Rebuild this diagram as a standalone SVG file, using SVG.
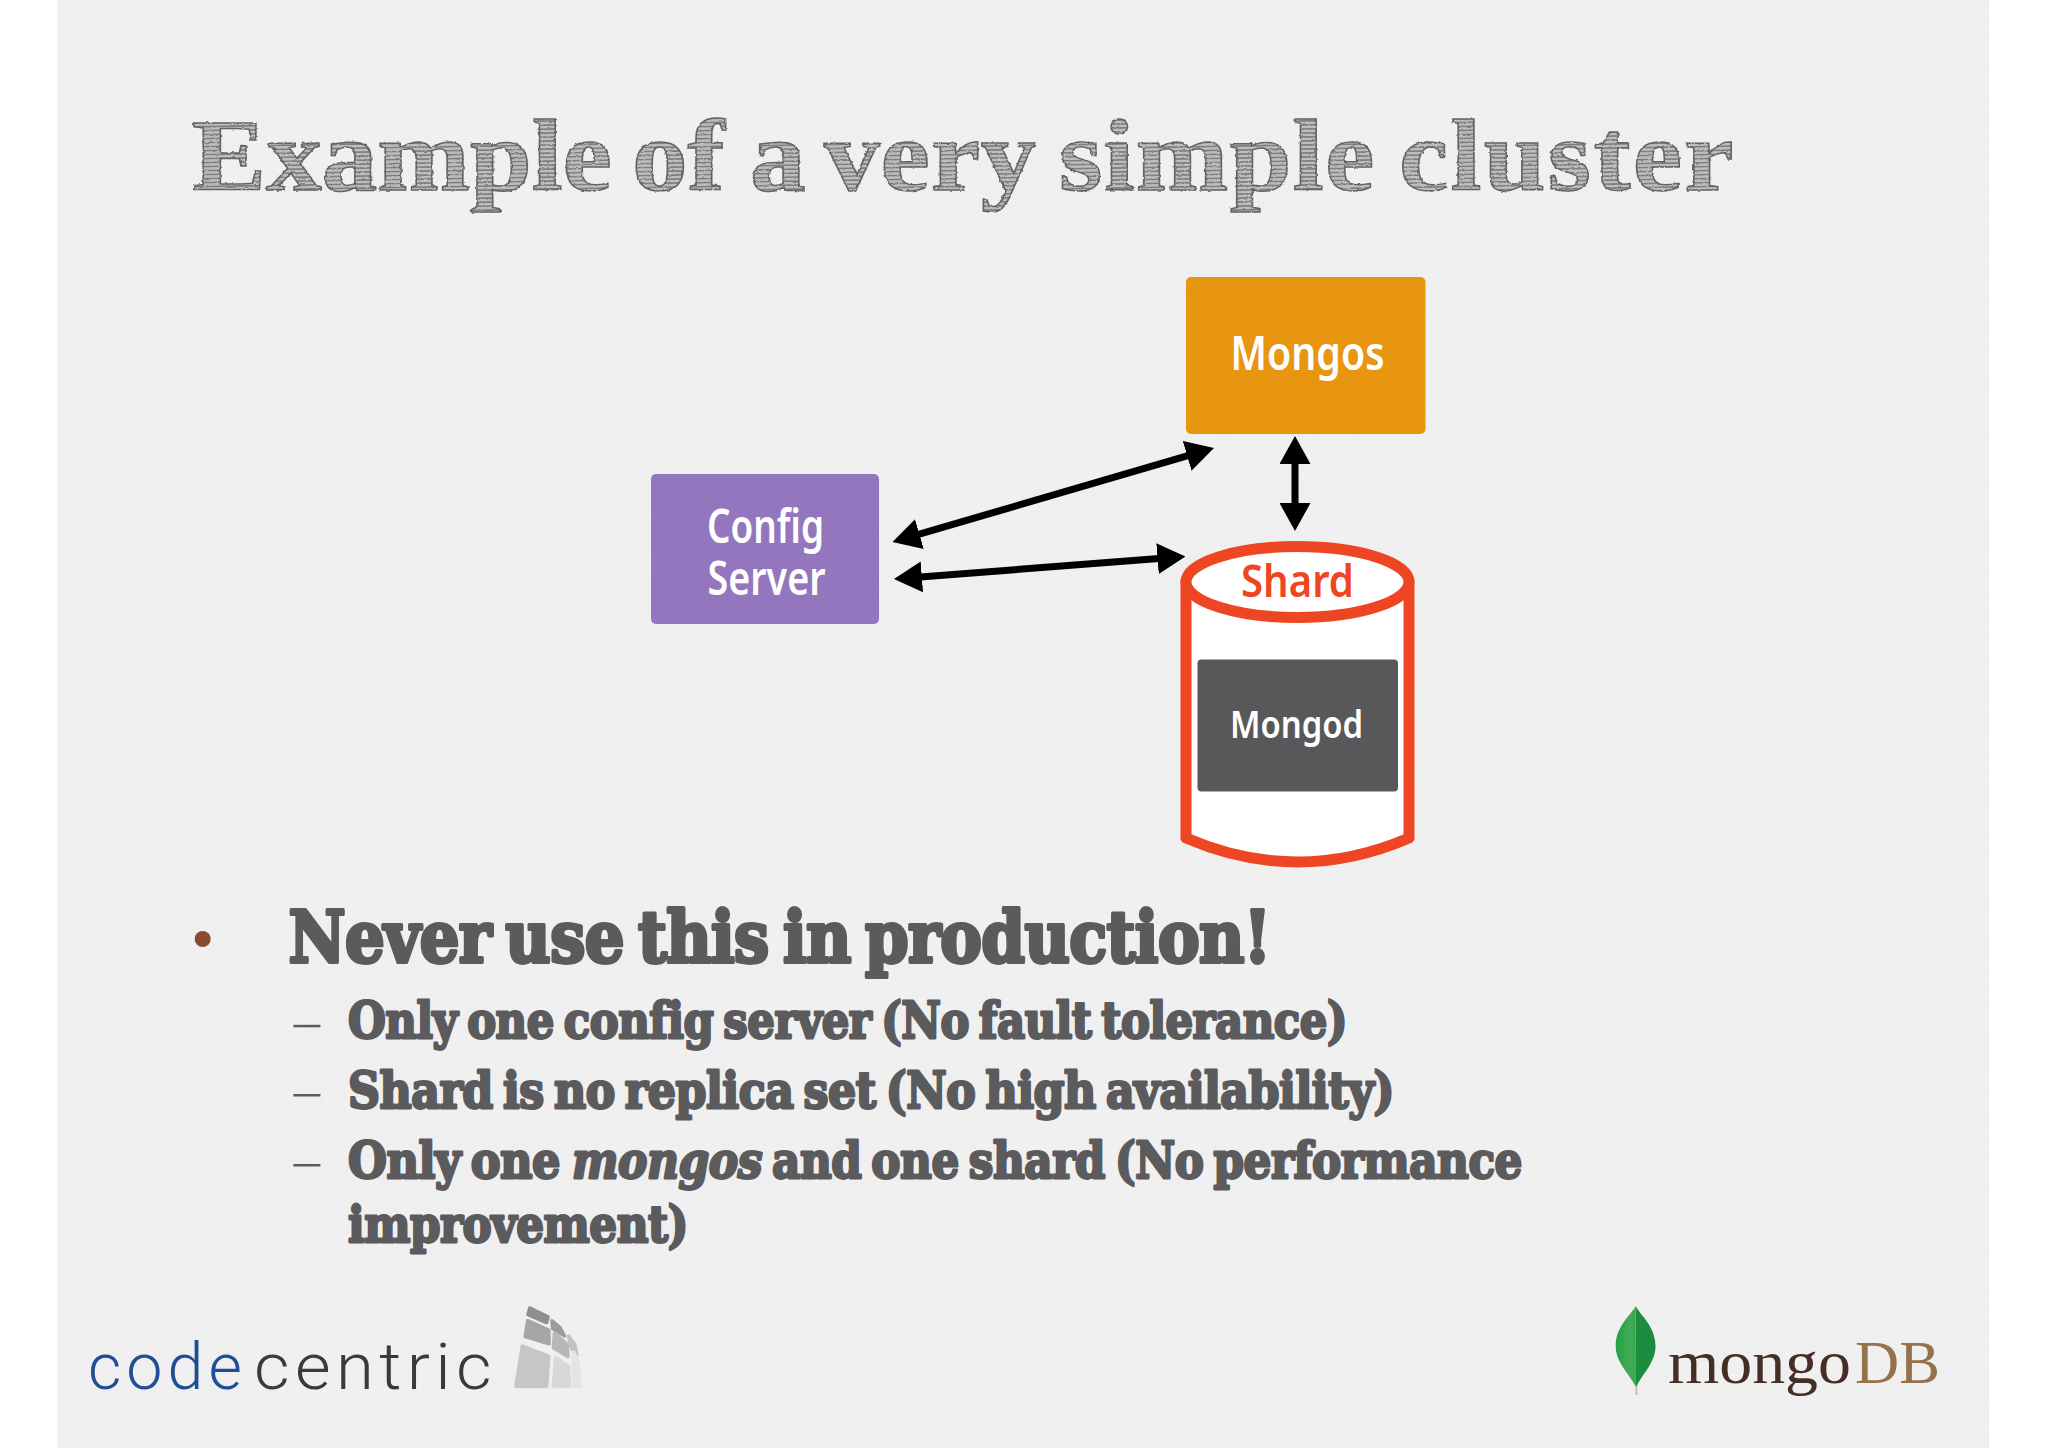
<svg xmlns="http://www.w3.org/2000/svg" width="2048" height="1448" viewBox="0 0 2048 1448">
<style>
.node{font-family:"Noto Sans","Liberation Sans",sans-serif;font-weight:600;fill:#fff}
.body{font-family:"DejaVu Serif","Liberation Serif",serif;font-weight:700;fill:#5b5b5d;stroke:#5b5b5d;stroke-linejoin:round;word-spacing:-.11em;letter-spacing:-.01em}
.sub{font-size:51px;stroke-width:2.800px}
.dash{fill:#5b5b5d}
.conn{stroke:#000;stroke-width:7;fill:none;marker-start:url(#ah);marker-end:url(#ah)}
.brand{font-family:"Liberation Serif",serif;font-size:62px}
.cc{font-family:"Roboto","Noto Sans",sans-serif;font-weight:300;font-size:64px}
</style>
<defs>
<marker id="ah" markerUnits="userSpaceOnUse" markerWidth="28" markerHeight="31" refX="8" refY="15.5" orient="auto-start-reverse"><path d="M0,0L28,15.5L0,31z" fill="#000"/></marker>
<pattern id="hatch" patternUnits="userSpaceOnUse" width="7" height="4" patternTransform="rotate(-1)"><rect width="7" height="4" fill="#bdbdbd"/><rect width="7" height="1.6" fill="#7f7f7f"/></pattern>
<filter id="paper" x="0" y="0" width="100%" height="100%"><feTurbulence type="fractalNoise" baseFrequency="0.09 0.12" numOctaves="3" seed="4"/><feColorMatrix values="0 0 0 0 0.5 0 0 0 0 0.5 0 0 0 0 0.5 0.08 0 0 0 -0.032"/></filter>
<filter id="sketch" x="-2%" y="-10%" width="104%" height="120%"><feTurbulence type="fractalNoise" baseFrequency="0.25" numOctaves="2" seed="7"/><feDisplacementMap in="SourceGraphic" scale="2.500" xChannelSelector="R" yChannelSelector="G"/></filter>
<linearGradient id="leafL" x1="0" x2="1"><stop offset="0" stop-color="#22a045"/><stop offset="0.7" stop-color="#43ab55"/><stop offset="1" stop-color="#3aa650"/></linearGradient>
</defs>
<rect width="2048" height="1448" fill="#fff"/>
<rect x="57.500" y="0" width="1931.500" height="1448" fill="#f1f0f1"/>
<rect x="57.500" y="0" width="1931.500" height="1448" filter="url(#paper)"/>

<text id="title" transform="translate(192,190) scale(1.09,1)" font-family="Liberation Serif,serif" font-weight="700" font-size="102" fill="url(#hatch)" stroke="#646464" stroke-width="1.500" filter="url(#sketch)"><tspan x="0">Example </tspan><tspan x="403.700">of </tspan><tspan x="511.900">a<tspan font-size="50"> </tspan></tspan><tspan x="579.800" letter-spacing=".8">very </tspan><tspan x="795.400" letter-spacing="1.200">simple </tspan><tspan x="1107.300" letter-spacing="2.100">cluster</tspan></text>

<g id="connectors">
<line class="conn" x1="911.700" y1="536.400" x2="1194.800" y2="453.600"/>
<line class="conn" x1="913.900" y1="577.500" x2="1165.500" y2="558"/>
<line class="conn" x1="1295" y1="456" x2="1295" y2="511"/>
</g>

<g id="mongos">
<rect x="1186" y="277" width="239.500" height="157" rx="5" fill="#e89510"/>
<text class="node" x="1230.500" y="370" font-size="46" textLength="154" lengthAdjust="spacingAndGlyphs">Mongos</text>
</g>
<g id="config-server">
<rect x="651" y="474" width="228" height="150" rx="5" fill="#9376bd"/>
<text class="node" x="707" y="543" font-size="46" textLength="117" lengthAdjust="spacingAndGlyphs">Config</text>
<text class="node" x="707.500" y="595" font-size="46" textLength="118" lengthAdjust="spacingAndGlyphs">Server</text>
</g>
<g id="shard">
<path d="M1186,582V838Q1297.500,886 1409,838V582Z" fill="#fff" stroke="#ee4622" stroke-width="11" stroke-linejoin="round"/>
<ellipse cx="1297.500" cy="582" rx="111.500" ry="35.500" fill="#fff" stroke="#ee4622" stroke-width="11"/>
<text x="1241" y="597" font-family="Noto Sans,Liberation Sans,sans-serif" font-weight="600" font-size="45" fill="#ee4622" textLength="113" lengthAdjust="spacingAndGlyphs">Shard</text>
</g>
<g id="mongod">
<rect x="1197.500" y="659.500" width="200.500" height="132" rx="4" fill="#58585a"/>
<text class="node" x="1230" y="738" font-size="37" textLength="133" lengthAdjust="spacingAndGlyphs">Mongod</text>
</g>

<g id="bullets">
<ellipse cx="202.700" cy="939" rx="8" ry="8" fill="#8b4a2b"/>
<text class="body" x="288.500" y="961.700" font-size="71" stroke-width="3.800" textLength="982" lengthAdjust="spacingAndGlyphs">Never use this in production!</text>
<rect class="dash" x="293.400" y="1024.800" width="27" height="2.500"/>
<text class="body sub" x="348" y="1038" textLength="999" lengthAdjust="spacingAndGlyphs">Only one config server (No fault tolerance)</text>
<rect class="dash" x="293.400" y="1094" width="27" height="2.500"/>
<text class="body sub" x="348" y="1108" textLength="1046" lengthAdjust="spacingAndGlyphs">Shard is no replica set (No high availability)</text>
<rect class="dash" x="293.400" y="1164" width="27" height="2.500"/>
<text class="body sub" x="348" y="1178" textLength="212" lengthAdjust="spacingAndGlyphs">Only one</text>
<text class="body sub" x="572" y="1178" font-style="italic" textLength="190" lengthAdjust="spacingAndGlyphs">mongos</text>
<text class="body sub" x="772" y="1178" textLength="750" lengthAdjust="spacingAndGlyphs">and one shard (No performance</text>
<text class="body sub" x="348" y="1242" textLength="340" lengthAdjust="spacingAndGlyphs">improvement)</text>
</g>

<g id="codecentric-logo">
<text class="cc" x="88" y="1388.700" fill="#1f4e96" letter-spacing="5" textLength="159" lengthAdjust="spacingAndGlyphs">code</text>
<text class="cc" x="254" y="1388.700" fill="#3a3a3c" letter-spacing="5" textLength="243" lengthAdjust="spacingAndGlyphs">centric</text>
<g transform="translate(60,1280) scale(.357,.333)" stroke-linejoin="round" stroke-width="10">
<path d="M1316,84L1367,110L1363,128L1311,104Z" fill="#8f8f8f" stroke="#8f8f8f"/>
<path d="M1310,122L1369,150L1370,192L1303,170Z" fill="#a6a6a6" stroke="#a6a6a6"/>
<path d="M1295,198L1369,228L1363,320L1277,320Z" fill="#c6c6c6" stroke="#c6c6c6"/>
<path d="M1378,122L1400,142L1413,168L1380,146Z" fill="#9c9c9c" stroke="#9c9c9c"/>
<path d="M1385,160L1420,192L1423,230L1382,204Z" fill="#b7b7b7" stroke="#b7b7b7"/>
<path d="M1388,232L1425,260L1427,320L1382,320Z" fill="#d8d8d8" stroke="#d8d8d8"/>
<path d="M1424,168L1441,192L1448,226L1433,206Z" fill="#c2c2c2" stroke="#c2c2c2"/>
<path d="M1438,216L1452,242L1456,320L1439,320Z" fill="#e4e4e4" stroke="#e4e4e4"/>
</g>
</g>

<g id="mongodb-logo">
<path d="M1635.500,1375L1637.500,1375L1637.500,1395L1635.500,1395Z" fill="#c9c4a8"/>
<path d="M1635.700,1306C1640,1315 1655.500,1326 1655.500,1346C1655.500,1362 1644,1372 1636,1387Z" fill="#1c8c3e"/>
<path d="M1635.700,1306C1631,1315 1615.700,1326 1615.700,1346C1615.700,1362 1628,1372 1636,1387Z" fill="url(#leafL)"/>
<text class="brand" x="1668" y="1383" fill="#452e26" textLength="183" lengthAdjust="spacingAndGlyphs">mongo</text>
<text class="brand" x="1855" y="1383" fill="#94734a" textLength="85" lengthAdjust="spacingAndGlyphs">DB</text>
</g>
</svg>
